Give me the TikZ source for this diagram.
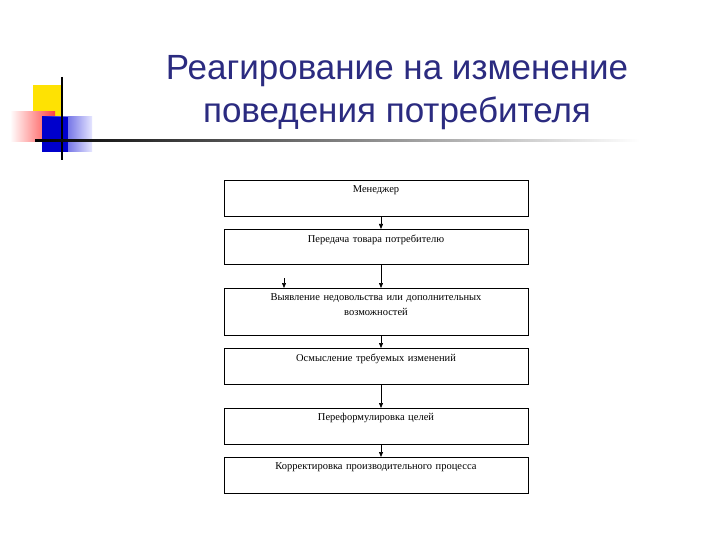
\documentclass[tikz,border=0pt]{standalone}
\usepackage{fontspec}
\setmainfont{Liberation Serif}
\newfontfamily\titlefont{Liberation Sans}
\usetikzlibrary{arrows.meta}
\definecolor{navy}{HTML}{2B2B80}
\begin{document}
\begin{tikzpicture}[x=1pt,y=-1pt,
  stepbox/.style={draw,line width=0.8pt,minimum width=304pt,anchor=north,inner sep=0pt},
  boxtext/.style={font=\fontsize{10.5}{15}\selectfont,align=center,anchor=north,text width=260pt},
  arr/.style={-{Triangle[length=5pt,width=4pt]},line width=0.7pt}]
\useasboundingbox[fill=white] (0,0) rectangle (720,540);
% decoration
\fill[yellow!85!orange] (33,85) rectangle (62,117);
\shade[left color=white, right color=red!75] (10,112) rectangle (55,142);
\shade[left color=blue!80!black, right color=blue!10] (42,117) rectangle (92,152);
\fill[blue!80!black] (42,117) rectangle (68,152);
\draw[line width=1.2pt] (62,77) -- (62,160);
\shade[left color=black, right color=white] (35,139.3) rectangle (640,141.3);
% title
\node[font=\titlefont\fontsize{35}{43}\selectfont,text=navy,align=center] (title) at (397,93) {Реагирование на изменение\\поведения потребителя};
% boxes
\node[stepbox,minimum height=36pt] (b1) at (376,180) {};
\node[stepbox,minimum height=35pt] (b2) at (376,229) {};
\node[stepbox,minimum height=47pt] (b3) at (376,288) {};
\node[stepbox,minimum height=36pt] (b4) at (376,348) {};
\node[stepbox,minimum height=36pt] (b5) at (376,408) {};
\node[stepbox,minimum height=36pt] (b6) at (376,457) {};
\node[boxtext] (t1) at (376,182) {Менеджер};
\node[boxtext] (t2) at (376,231) {Передача товара потребителю};
\node[boxtext] (t3) at (376,290) {Выявление недовольства или дополнительных\\возможностей};
\node[boxtext] (t4) at (376,350) {Осмысление требуемых изменений};
\node[boxtext] (t5) at (376,410) {Переформулировка целей};
\node[boxtext] (t6) at (376,459) {Корректировка производительного процесса};
% arrows
\draw[arr] (b1.south -| 381,0) -- (b2.north -| 381,0);
\draw[arr] (b2.south -| 381,0) -- (b3.north -| 381,0);
\draw[arr] (b3.south -| 381,0) -- (b4.north -| 381,0);
\draw[arr] (b4.south -| 381,0) -- (b5.north -| 381,0);
\draw[arr] (b5.south -| 381,0) -- (b6.north -| 381,0);
\coordinate (s0) at (284,278);
\draw[arr] (s0) -- (b3.north -| s0);
\end{tikzpicture}
\end{document}
